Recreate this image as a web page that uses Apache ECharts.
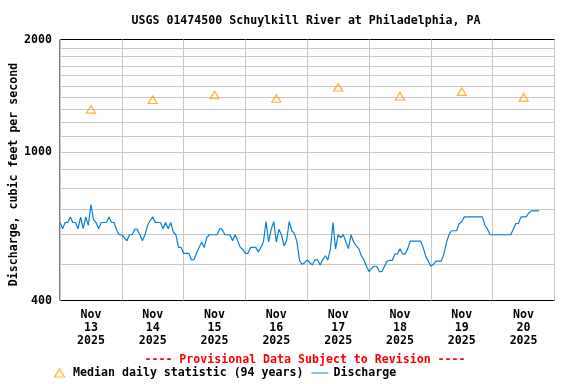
<!DOCTYPE html>
<html><head><meta charset="utf-8">
<script src="https://cdn.jsdelivr.net/npm/echarts@6/dist/echarts.min.js"></script>
<style>html,body{margin:0;padding:0;background:#fff}#c{width:576px;height:384px}</style>
</head><body><div id="c"></div>
<script>
// Category (day) labels, one per day, Nov 13 - Nov 20 2025
const dayLabels = ['Nov\n13\n2025','Nov\n14\n2025','Nov\n15\n2025','Nov\n16\n2025','Nov\n17\n2025','Nov\n18\n2025','Nov\n19\n2025','Nov\n20\n2025'];
// Median daily statistic (94 years), cfs, one per day
const medianValues = [1300, 1380, 1420, 1390, 1490, 1410, 1450, 1400];
// Discharge, cfs, hourly starting 2025-11-13 00:00
const dischargeHourly = [
  647, 623, 647, 647, 669, 647, 647, 623, 669, 623, 669, 636, 723, 660, 647, 623, 647, 647, 647, 669, 647, 647, 617, 600,
  600, 589, 578, 600, 600, 621, 621, 600, 578, 600, 636, 655, 670, 647, 647, 647, 623, 647, 623, 647, 610, 600, 555, 555,
  535, 535, 535, 514, 514, 535, 555, 574, 555, 590, 600, 600, 600, 600, 623, 620, 600, 600, 600, 578, 600, 578, 555, 548,
  535, 535, 555, 555, 555, 540, 555, 575, 651, 574, 620, 651, 574, 620, 600, 560, 580, 651, 615, 605, 574, 512, 500, 505,
  514, 505, 498, 514, 514, 498, 514, 527, 514, 550, 647, 550, 600, 590, 600, 574, 551, 600, 574, 560, 551, 527, 514, 494,
  478, 488, 494, 494, 478, 478, 494, 510, 512, 512, 533, 533, 550, 533, 533, 550, 577, 577, 577, 577, 577, 555, 525, 510,
  494, 500, 510, 510, 510, 530, 570, 600, 615, 615, 615, 643, 650, 670, 670, 670, 670, 670, 670, 670, 670, 636, 621, 600,
  600, 600, 600, 600, 600, 600, 600, 600, 621, 643, 643, 670, 670, 670, 686, 695, 695, 695, 695
];
const yGridValues = [500, 600, 700, 800, 900, 1000, 1100, 1200, 1300, 1400, 1500, 1600, 1700, 1800, 1900];
const yTickLabels = [400, 1000, 2000];
const HOURS_SPAN = 192;

const FONT = 'DejaVu Sans Mono';
const FS = 11.6;
const BLUE = '#0a7fd6';
const ORANGE = '#ff9d00';
const txt = {fontFamily: FONT, fontWeight: 'bold', fontSize: FS, color: '#000'};

const chart = echarts.init(document.getElementById('c'), null, {renderer: 'canvas'});
chart.setOption({
  animation: false,
  backgroundColor: '#fff',
  title: [
    {text: 'USGS 01474500 Schuylkill River at Philadelphia, PA', left: 306, top: 15, textAlign: 'center', padding: 0,
     textStyle: Object.assign({}, txt)},
    {text: '---- Provisional Data Subject to Revision ----', left: 305, top: 354, textAlign: 'center', padding: 0,
     textStyle: Object.assign({}, txt, {color: '#ff0000'})}
  ],
  legend: {
    left: 54, top: 367, padding: 0, itemWidth: 17, itemHeight: 8, itemGap: 8,
    textStyle: Object.assign({}, txt),
    data: [
      {name: 'Median daily statistic (94 years)', icon: 'path://M5,0L10,8L0,8Z',
       itemStyle: {color: 'rgba(0,0,0,0)', borderColor: ORANGE, borderWidth: 1.2}},
      {name: 'Discharge', icon: 'path://M0,0L17,0L17,1L0,1Z',
       itemStyle: {color: BLUE, borderWidth: 0}}
    ]
  },
  grid: {left: 58.5, top: 39.5, width: 496, height: 261, show: true, borderColor: '#000', borderWidth: 1, backgroundColor: 'rgba(0,0,0,0)'},
  xAxis: [
    {type: 'value', min: 0, max: HOURS_SPAN, show: false},
    {type: 'category', data: dayLabels, boundaryGap: true, position: 'bottom',
     axisLine: {show: false, onZero: false}, axisTick: {show: false},
     splitLine: {show: true, interval: 0, lineStyle: {color: '#c8c8c8', width: 1}},
     axisLabel: Object.assign({}, txt, {interval: 0, margin: 8, lineHeight: 13})}
  ],
  yAxis: {
    type: 'log', logBase: 10, min: 400, max: 2000,
    axisLine: {show: false, onZero: false}, axisTick: {show: false}, axisLabel: {show: false}, splitLine: {show: false},
    name: 'Discharge, cubic feet per second', nameLocation: 'middle', nameRotate: 90, nameGap: 40,
    nameTextStyle: Object.assign({}, txt, {padding: [0, 9, 0, 0]})
  },
  series: [
    {
      type: 'line', xAxisIndex: 0, yAxisIndex: 0, data: [], silent: true,
      markLine: {
        silent: true, symbol: ['none', 'none'], z: 1, animation: false, precision: 0,
        data: yGridValues.map(v => ({yAxis: v, lineStyle: {color: '#c8c8c8', width: 1, type: 'solid'}, label: {show: false}}))
          .concat(yTickLabels.map(v => ({yAxis: v, name: String(v), lineStyle: {color: 'rgba(0,0,0,0)', width: 1, type: 'solid'},
            label: Object.assign({show: true, position: 'start', formatter: '{b}', distance: 8}, txt)})))
      }
    },
    {
      name: 'Discharge', type: 'line', xAxisIndex: 0, yAxisIndex: 0, z: 3,
      data: dischargeHourly.map((v, i) => [i, v]),
      symbol: 'none', showSymbol: false, lineStyle: {color: BLUE, width: 1.2}, itemStyle: {color: BLUE}
    },
    {
      name: 'Median daily statistic (94 years)', type: 'scatter', xAxisIndex: 1, yAxisIndex: 0, z: 4,
      data: medianValues, symbol: 'triangle', symbolSize: [9, 7.5],
      itemStyle: {color: 'rgba(0,0,0,0)', borderColor: ORANGE, borderWidth: 1.2}
    }
  ]
});
</script></body></html>
